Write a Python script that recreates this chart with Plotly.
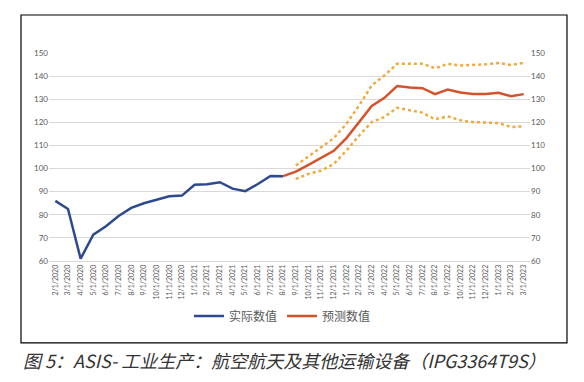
import plotly.graph_objects as go

dates = ["2/1/2020","3/1/2020","4/1/2020","5/1/2020","6/1/2020","7/1/2020","8/1/2020","9/1/2020",
         "10/1/2020","11/1/2020","12/1/2020","1/1/2021","2/1/2021","3/1/2021","4/1/2021","5/1/2021",
         "6/1/2021","7/1/2021","8/1/2021","9/1/2021","10/1/2021","11/1/2021","12/1/2021","1/1/2022",
         "2/1/2022","3/1/2022","4/1/2022","5/1/2022","6/1/2022","7/1/2022","8/1/2022","9/1/2022",
         "10/1/2022","11/1/2022","12/1/2022","1/1/2023","2/1/2023","3/1/2023"]

actual_dates = dates[:19]
actual = [86, 82.5, 61, 71.4, 75, 79.5, 83, 85, 86.5, 88, 88.3, 93, 93.2, 94.1, 91.3, 90.2, 93.3, 96.8, 96.7]

fc_dates = dates[18:]
forecast = [96.7, 98.7, 101.6, 104.5, 107.7, 113.2, 119.9, 127.1, 130.6, 135.7, 135.1, 134.8,
            132.2, 134.2, 132.9, 132.3, 132.3, 132.8, 131.3, 132.2]

bound_dates = dates[19:]
upper = [101.3, 105.4, 109.3, 113.2, 119.4, 127.3, 136.0, 140.3, 145.3, 145.4, 145.4, 143.4,
         145.3, 144.6, 144.8, 145.1, 145.7, 144.8, 145.7]
lower = [95.5, 97.7, 99.1, 102.0, 107.8, 114.3, 120.1, 122.3, 126.3, 125.2, 124.2, 121.3,
         122.6, 120.9, 120.1, 119.9, 119.7, 118.0, 118.3]

yticks = [60, 70, 80, 90, 100, 110, 120, 130, 140, 150]

BLUE = "#2E4A8E"
ORANGE = "#D4532A"
GOLD = "#F2A93B"
GRAY = "#595959"

fig = go.Figure()
fig.add_trace(go.Scatter(x=bound_dates, y=upper, mode="lines", yaxis="y2",
                         line=dict(color=GOLD, width=2.5, dash="dot"), showlegend=False))
fig.add_trace(go.Scatter(x=bound_dates, y=lower, mode="lines", yaxis="y2",
                         line=dict(color=GOLD, width=2.5, dash="dot"), showlegend=False))
fig.add_trace(go.Scatter(x=actual_dates, y=actual, mode="lines", name="实际数值",
                         line=dict(color=BLUE, width=2.5)))
fig.add_trace(go.Scatter(x=fc_dates, y=forecast, mode="lines", name="预测数值",
                         line=dict(color=ORANGE, width=2.5)))

tickfont = dict(family="Lato, Open Sans, sans-serif", size=8, color=GRAY)

fig.update_layout(
    width=576, height=374,
    margin=dict(l=41, r=54, t=45, b=121),
    paper_bgcolor="white", plot_bgcolor="white",
    xaxis=dict(type="category", categoryorder="array", categoryarray=dates,
               range=[-0.5, len(dates) - 0.5], tickangle=-90,
               tickfont=dict(family="Lato, Open Sans, sans-serif", size=7, color=GRAY),
               showgrid=False, showline=True, linecolor="#D9D9D9", linewidth=1,
               ticks="", zeroline=False),
    yaxis=dict(range=[60, 150], tickvals=yticks, tickfont=tickfont,
               showgrid=True, gridcolor="#D9D9D9", gridwidth=1, zeroline=False,
               ticks="", showline=False),
    yaxis2=dict(range=[60, 150], tickvals=yticks, tickfont=tickfont, overlaying="y",
                side="right", showgrid=False, zeroline=False, ticks="", showline=False),
    legend=dict(orientation="h", x=0.4854, xanchor="center", y=-0.264, yanchor="middle",
                font=dict(family="Noto Sans CJK SC", size=12, color=GRAY),
                itemwidth=30, bgcolor="rgba(0,0,0,0)"),
    showlegend=True,
)

fig.add_shape(type="rect", xref="paper", yref="paper",
              x0=-0.0582, x1=1.0769, y0=-0.394, y1=1.1827,
              line=dict(color="black", width=1.2), fillcolor="rgba(0,0,0,0)", layer="below")

fig.add_annotation(text="图 5：ASIS- 工业生产：航空航天及其他运输设备（IPG3364T9S）",
                   xref="paper", yref="paper", x=-0.058, y=-0.476,
                   xanchor="left", yanchor="middle", showarrow=False,
                   font=dict(family="Noto Sans CJK SC", size=18, color="#333333", style="italic"))

fig.write_html("out.html")
